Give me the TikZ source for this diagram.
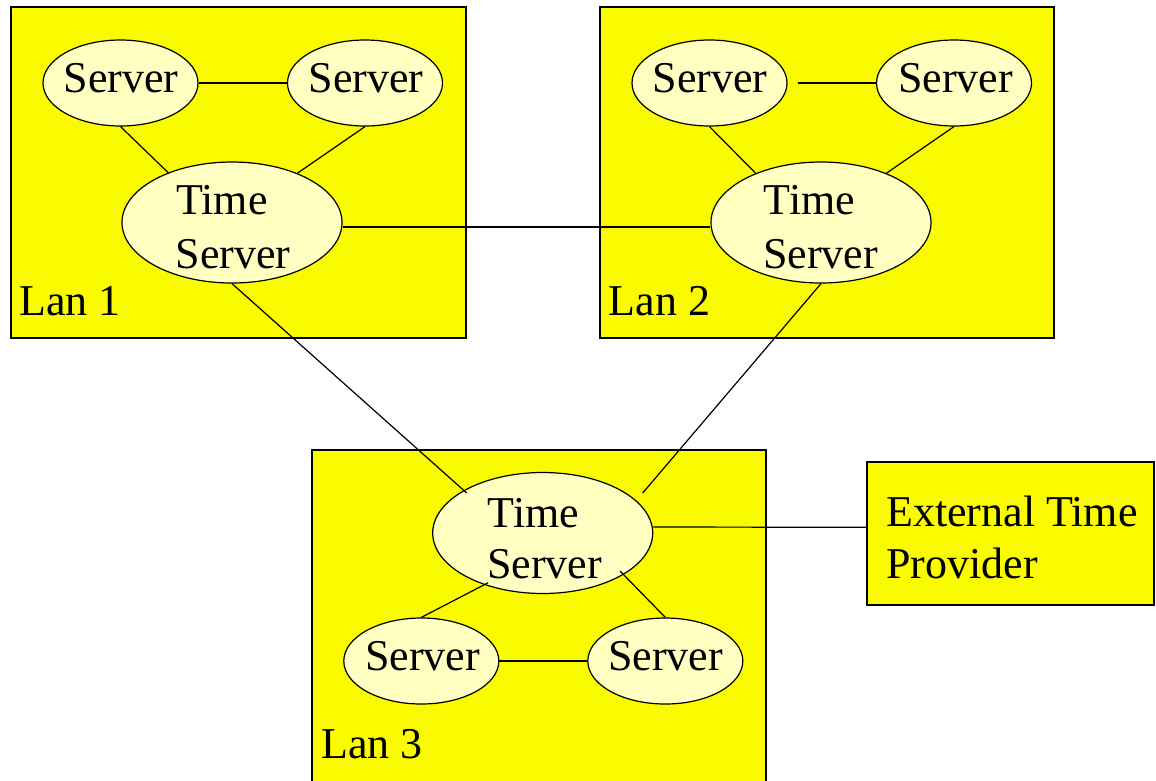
\documentclass[tikz,border=0pt]{standalone}
\usepackage{fontspec}
\setmainfont{Liberation Serif}
\usetikzlibrary{shapes.geometric,calc}
\definecolor{lanyellow}{RGB}{250,250,0}
\definecolor{hostfill}{RGB}{255,255,194}
\tikzset{
  lanbox/.style={draw=black,line width=1.6pt,fill=lanyellow},
  srv/.style={ellipse,draw=black,line width=1.2pt,fill=hostfill,inner sep=0pt,
    minimum width=155pt,minimum height=86pt},
  tsrv/.style={ellipse,draw=black,line width=1.2pt,fill=hostfill,inner sep=0pt,
    minimum width=220pt,minimum height=121pt},
  lbl/.style={anchor=base west,inner sep=0pt,font=\fontsize{44}{54}\selectfont},
  link/.style={draw=black,line width=1.2pt}
}
\begin{document}
\begin{tikzpicture}[x=1pt,y=-1pt]
\useasboundingbox (0,0) rectangle (1156,780);

% LAN boxes and the external provider
\node[lanbox,anchor=north west,minimum width=455pt,minimum height=331pt,inner sep=0pt] (lan1) at (10,6) {};
\node[lanbox,anchor=north west,minimum width=454pt,minimum height=331pt,inner sep=0pt] (lan2) at (599,6) {};
\node[lanbox,anchor=north west,minimum width=454pt,minimum height=335pt,inner sep=0pt] (lan3) at (311,449) {};
\node[lanbox,anchor=north west,minimum width=287pt,minimum height=143pt,inner sep=0pt] (ext) at (866,461) {};

% hosts
\node[srv] (s1a) at (120.5,83) {};
\node[srv] (s1b) at (365,83) {};
\node[tsrv] (ts1) at (232,222.5) {};
\node[srv] (s2a) at (709.5,83) {};
\node[srv] (s2b) at (954,83) {};
\node[tsrv] (ts2) at (821,222.5) {};
\node[tsrv] (ts3) at (542.7,533) {};
\node[srv] (s3a) at (421.3,661) {};
\node[srv] (s3b) at (665.3,661) {};

% links inside LAN 1
\draw[link] (s1a.east) -- (s1b.west);
\draw[link] (s1a.south) -- (ts1.142.6);
\draw[link] (s1b.south) -- (ts1.37.4);
% links inside LAN 2
\draw[link] ($(s2a.east)+(10,0)$) -- (s2b.west);
\draw[link] (s2a.south) -- (ts2.143);
\draw[link] (s2b.south) -- (ts2.37.4);
% links between time servers
\draw[link] ($(ts1.east)+(0,4.5)$) -- ($(ts2.west)+(0,4.5)$);
\draw[link] (ts1.south) -- ($(ts3)+(-76,-40)$);
\draw[link] (ts2.south) -- ($(ts3)+(100,-40)$);
\draw[link] ($(ts3.east)+(0,-6)$) -- ($(ext.west)+(0,-6)$);
% links inside LAN 3
\draw[link] ($(ts3)+(-54.5,49.7)$) -- (s3a.north);
\draw[link] ($(ts3)+(77.3,38)$) -- (s3b.north);
\draw[link] (s3a.east) -- (s3b.west);

% labels
\node[lbl] (l1) at (19,315) {Lan 1};
\node[lbl] (l2) at (608.5,315) {Lan 2};
\node[lbl] (l3) at (321,758.5) {Lan 3};

\node[lbl] (s1at) at (63.5,92) {Server};
\node[lbl] (s1bt) at (308.5,92) {Server};
\node[lbl] (s2at) at (652.5,92) {Server};
\node[lbl] (s2bt) at (898,92) {Server};
\node[lbl] (s3at) at (365,670) {Server};
\node[lbl] (s3bt) at (608,670) {Server};

\node[lbl] (ts1a) at (176,214) {Time};
\node[lbl] (ts1b) at (175.5,268) {Server};
\node[lbl] (ts2a) at (763.5,214) {Time};
\node[lbl] (ts2b) at (763,268) {Server};
\node[lbl] (ts3a) at (487.5,527.3) {Time};
\node[lbl] (ts3b) at (487,578.3) {Server};

\node[lbl] (exta) at (886,526) {External Time};
\node[lbl] (extb) at (886,578) {Provider};
\end{tikzpicture}
\end{document}
